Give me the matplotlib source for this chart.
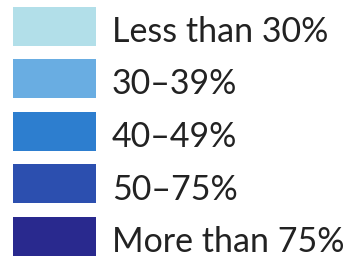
import matplotlib.pyplot as plt

# Legend categories and colours
labels = ['Less than 30%', '30\u201339%', '40\u201349%', '50\u201375%', 'More than 75%']
colors = ['#b2dfe9', '#69ade2', '#2d7ecf', '#2c4faf', '#29298e']

fig = plt.figure(figsize=(3.59, 2.58), dpi=100)
ax = fig.add_axes([0, 0, 1, 1])

pitch = 52.5
rows = list(range(len(labels)))
ax.barh(rows, 83, left=13, height=39 / pitch, color=colors)

for i, lab in enumerate(labels):
    ax.text(112, i + 16 / pitch, lab, fontsize=24.5, family='Lato',
            color='#222222', va='baseline', ha='left')

ax.set_xlim(0, 359)
ax.set_ylim((258 - 26) / pitch, -26 / pitch)
ax.axis('off')

fig.savefig('out.png', dpi=100)
